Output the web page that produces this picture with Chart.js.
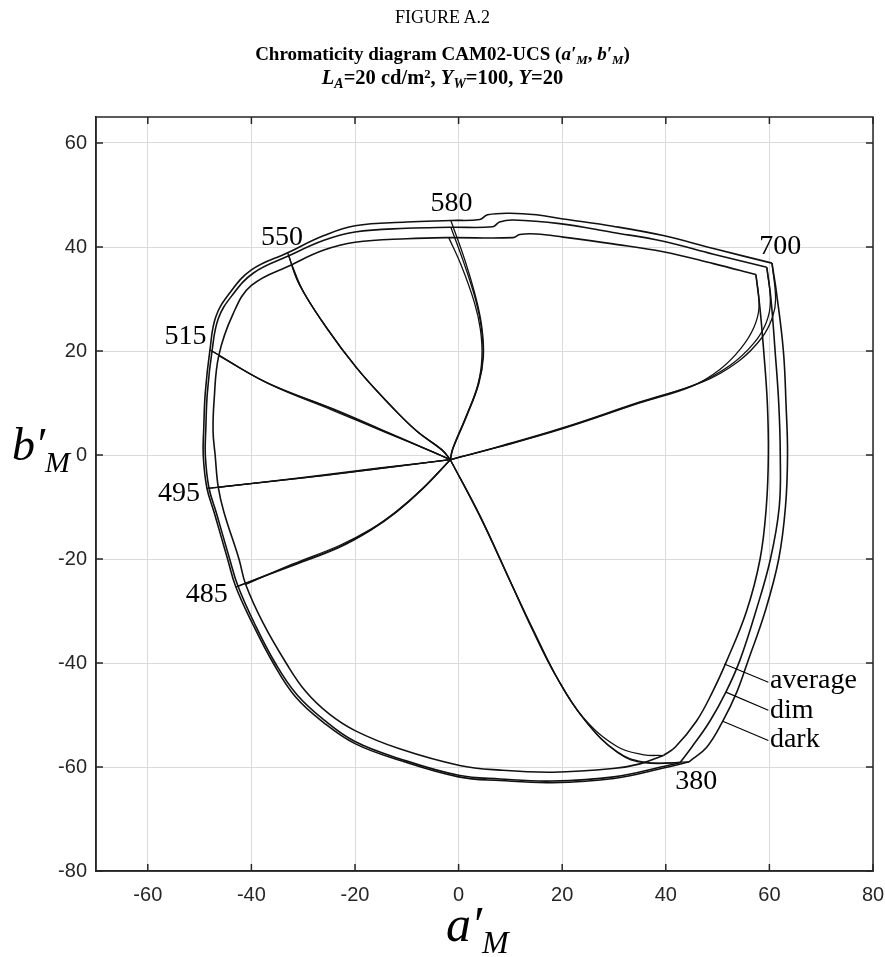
<!DOCTYPE html>
<html>
<head>
<meta charset="utf-8">
<script src="https://cdn.jsdelivr.net/npm/chart.js@4.4.1/dist/chart.umd.min.js"></script>
<style>
  body { margin: 0; background: #fff; }
  #wrap { position: relative; width: 885px; height: 957px; }
  .t { position: absolute; left: 0; width: 885px; text-align: center; white-space: nowrap;
       font-family: "Liberation Serif", "Times New Roman", serif; color: #000; }
  .sb { font-size: 0.68em; position: relative; top: 0.28em; }
  .sp { font-size: 0.62em; position: relative; top: -0.45em; }
  .ax { position: absolute; font-family: "Liberation Serif", "Times New Roman", serif;
        font-style: italic; color: #000; white-space: nowrap; }
</style>
</head>
<body>
<div id="wrap">
  <canvas id="chart"></canvas>
  <div class="t" style="top:7px;font-size:18px;line-height:20px">FIGURE A.2</div>
  <div class="t" style="top:43px;font-size:19px;line-height:22px;font-weight:bold">Chromaticity diagram CAM02-UCS (<i>a′</i><span class="sb"><i>M</i></span>, <i>b′</i><span class="sb"><i>M</i></span>)</div>
  <div class="t" style="top:66px;font-size:20.5px;line-height:22px;font-weight:bold"><i>L</i><span class="sb"><i>A</i></span>=20 cd/m<span class="sp">2</span>, <i>Y</i><span class="sb"><i>W</i></span>=100, <i>Y</i>=20</div>
  <div class="ax" style="left:12px;top:420px;font-size:46px;line-height:50px">b′<span style="font-size:30px;position:relative;top:12px">M</span></div>
  <div class="ax" style="left:446px;top:898px;font-size:50px;line-height:52px">a′<span style="font-size:32px;position:relative;top:12px">M</span></div>
</div>
<script>
// axis ticks
const xTicks = [-60, -40, -20, 0, 20, 40, 60, 80];
const yTicks = [-80, -60, -40, -20, 0, 20, 40, 60];

// gamut boundaries, spectral locus 380 -> 700 nm, then purple line 700 -> 380
const averageLocus = [[39.5,-57.8],[35.0,-59.4],[29.8,-60.3],[18.2,-61.0],[8.0,-60.6],[0.2,-59.7],[-11.4,-56.5],[-20.0,-53.0],[-25.0,-49.8],[-29.5,-45.5],[-33.3,-40.0],[-37.7,-32.4],[-41.1,-24.9],[-42.4,-20.0],[-45.3,-11.0],[-46.4,-6.2],[-47.0,0.0],[-47.4,4.5],[-47.2,10.5],[-46.3,19.1],[-43.6,27.0],[-40.0,32.6],[-32.2,36.6],[-26.0,39.4],[-20.0,40.9],[-10.0,41.6],[-1.9,41.8],[10.5,41.8],[11.8,42.4],[15.0,42.5],[20.2,41.9],[29.8,40.6],[39.5,39.1],[49.2,36.8],[57.4,34.7]];
const averagePurple = [[57.4,34.7],[58.2,28.0],[58.9,20.0],[59.6,10.0],[59.8,0.0],[59.4,-10.0],[58.2,-20.0],[55.6,-30.0],[51.8,-39.5],[49.0,-45.6],[45.9,-51.2],[41.8,-56.2],[39.5,-57.8]];

const dimLocus = [[42.7,-59.2],[40.0,-59.8],[30.0,-61.9],[18.0,-62.7],[8.0,-62.3],[0.0,-61.6],[-11.4,-58.4],[-20.0,-55.1],[-25.8,-51.1],[-31.2,-46.1],[-35.4,-40.0],[-39.4,-32.4],[-42.6,-25.2],[-44.2,-20.0],[-46.8,-11.0],[-48.2,-6.3],[-48.9,0.0],[-48.8,5.0],[-48.5,12.0],[-47.6,20.0],[-46.4,26.2],[-43.8,30.6],[-39.6,35.0],[-32.8,38.3],[-26.0,41.3],[-20.0,42.9],[-10.0,43.6],[-1.5,43.8],[6.6,43.9],[7.9,44.8],[10.5,45.2],[19.5,44.5],[29.8,42.8],[39.5,41.1],[49.2,38.6],[59.5,36.1]];
const dimPurple = [[59.5,36.1],[60.3,30.0],[61.1,20.0],[61.8,10.0],[62.1,0.0],[61.9,-10.0],[60.2,-20.0],[57.4,-30.0],[54.3,-39.5],[51.6,-45.6],[48.5,-51.2],[45.0,-56.2],[42.7,-59.2]];

const darkLocus = [[44.5,-59.0],[40.0,-60.1],[30.0,-62.2],[18.0,-63.0],[8.0,-62.6],[0.0,-61.9],[-11.4,-58.7],[-20.0,-55.5],[-26.0,-51.5],[-31.5,-46.5],[-35.8,-40.0],[-39.8,-32.4],[-43.0,-25.4],[-44.6,-20.0],[-47.2,-11.0],[-48.6,-6.3],[-49.3,0.0],[-49.2,5.0],[-48.9,12.0],[-48.0,20.2],[-46.9,26.5],[-44.3,31.0],[-40.0,35.6],[-33.0,38.9],[-26.0,42.2],[-20.0,44.1],[-10.0,44.8],[-1.5,45.1],[4.1,45.3],[5.6,46.2],[9.9,46.5],[15.0,46.2],[20.2,45.4],[29.8,44.0],[39.5,42.2],[49.2,39.7],[60.5,36.9]];
const darkPurple = [[60.5,36.9],[61.4,31.0],[62.7,20.0],[63.2,10.0],[63.5,0.0],[63.1,-10.0],[61.8,-20.0],[59.2,-30.0],[55.9,-39.5],[53.7,-45.6],[51.0,-51.2],[47.9,-56.2],[44.5,-59.0]];

// constant-hue lines from the white point to the boundary
const hue380Avg = [[-1.6,-0.9],[4.0,-11.6],[9.9,-24.2],[14.2,-33.5],[18.9,-42.7],[24.0,-50.4],[30.5,-56.0],[35.5,-57.6],[39.5,-57.8]];
const hue380Dim = [[-1.6,-0.9],[4.1,-11.7],[10.0,-24.4],[14.4,-33.8],[19.2,-43.2],[24.4,-51.0],[30.5,-57.0],[35.6,-59.0],[42.7,-59.2]];
const hue380Dark = [[-1.6,-0.9],[4.2,-11.8],[10.1,-24.5],[14.6,-34.0],[19.4,-43.5],[24.6,-51.3],[30.8,-57.3],[36.0,-59.2],[44.5,-59.0]];
const hue485Avg = [[-1.6,-0.9],[-7.0,-6.5],[-12.0,-10.8],[-17.0,-14.3],[-23.0,-17.4],[-32.1,-21.0],[-41.1,-24.9]];
const hue485Dim = [[-1.6,-0.9],[-7.0,-6.5],[-12.0,-10.9],[-17.0,-14.4],[-23.0,-17.6],[-32.2,-21.2],[-42.6,-25.2]];
const hue485Dark = [[-1.6,-0.9],[-7.0,-6.6],[-12.0,-11.0],[-17.0,-14.5],[-23.1,-17.8],[-32.4,-21.4],[-43.0,-25.4]];
const hue495Avg = [[-1.6,-0.9],[-15.3,-2.5],[-30.0,-4.3],[-46.4,-6.2]];
const hue495Dim = [[-1.6,-0.9],[-15.3,-2.6],[-30.0,-4.4],[-48.2,-6.4]];
const hue495Dark = [[-1.6,-0.9],[-15.3,-2.6],[-30.0,-4.4],[-48.6,-6.4]];
const hue515Avg = [[-1.6,-0.9],[-5.0,0.6],[-14.0,4.3],[-24.3,8.6],[-36.5,13.6],[-46.3,19.1]];
const hue515Dim = [[-1.6,-0.9],[-5.0,0.6],[-14.0,4.4],[-24.3,8.8],[-37.0,13.9],[-47.6,20.0]];
const hue515Dark = [[-1.6,-0.9],[-5.0,0.6],[-14.0,4.5],[-24.3,8.9],[-37.2,14.0],[-48.0,20.2]];
const hue550Avg = [[-1.6,-0.9],[-3.2,0.9],[-8.1,4.6],[-13.9,10.3],[-19.6,16.6],[-25.2,24.0],[-30.0,31.5],[-32.2,36.6]];
const hue550Dim = [[-1.6,-0.9],[-3.2,1.0],[-8.2,4.7],[-14.0,10.4],[-19.7,16.8],[-25.4,24.4],[-30.6,32.5],[-32.8,38.3]];
const hue550Dark = [[-1.6,-0.9],[-3.2,1.0],[-8.2,4.7],[-14.0,10.5],[-19.8,16.9],[-25.6,24.6],[-30.8,32.9],[-33.0,38.9]];
const hue580Avg = [[-1.6,-0.9],[-1.2,1.1],[1.3,7.1],[3.7,13.5],[4.5,18.8],[4.2,24.2],[3.0,29.5],[0.5,36.5],[-1.9,41.8]];
const hue580Dim = [[-1.6,-0.9],[-1.1,1.2],[1.4,7.2],[3.8,13.6],[4.7,18.9],[4.4,24.4],[3.3,29.8],[1.0,37.0],[-1.5,43.8]];
const hue580Dark = [[-1.6,-0.9],[-1.1,1.2],[1.5,7.3],[3.9,13.7],[4.8,19.0],[4.5,24.5],[3.4,30.0],[1.2,37.5],[-1.5,45.1]];
const hue700Avg = [[57.4,34.7],[58.0,28.5],[57.0,24.5],[54.5,20.5],[50.5,16.5],[45.0,13.2],[35.0,10.0],[20.0,5.0],[8.0,1.6],[-1.6,-0.9]];
const hue700Dim = [[59.5,36.1],[60.2,29.5],[59.4,25.5],[57.0,21.5],[52.5,17.3],[46.0,13.7],[35.0,10.1],[20.0,5.1],[8.0,1.6],[-1.6,-0.9]];
const hue700Dark = [[60.5,36.9],[61.2,30.0],[60.6,26.5],[58.5,22.5],[54.0,18.0],[47.0,14.0],[35.0,10.2],[20.0,5.2],[8.0,1.7],[-1.6,-0.9]];

// wavelength labels (nm) and where they sit
const waveNames = ['380', '485', '495', '515', '550', '580', '700'];
const waveX = [45.9, -48.6, -54.0, -52.7, -34.1, -1.35, 62.1];
const waveY = [-64.2, -28.3, -8.75, 21.4, 40.3, 47.0, 38.7];

// surround labels with leader lines
const surroundNames = ['average', 'dim', 'dark'];
const surroundY = [-44.8, -50.5, -56.1];
const leaderFrom = [[51.3,-40.2],[51.6,-45.6],[51.0,-51.2]];
const leaderTo = [[59.8,-43.7],[59.8,-49.1],[59.8,-54.9]];

const boundaries = [averageLocus, averagePurple, dimLocus, dimPurple, darkLocus, darkPurple];
const hueLines = [hue380Avg, hue380Dim, hue380Dark, hue485Avg, hue485Dim, hue485Dark,
  hue495Avg, hue495Dim, hue495Dark, hue515Avg, hue515Dim, hue515Dark,
  hue550Avg, hue550Dim, hue550Dark, hue580Avg, hue580Dim, hue580Dark,
  hue700Avg, hue700Dim, hue700Dark];

function curve(pts, width) {
  return {
    data: pts.map(p => ({ x: p[0], y: p[1] })),
    showLine: true,
    pointRadius: 0,
    borderColor: '#111',
    borderWidth: width,
    tension: 0.4,
    fill: false,
  };
}

const datasets = [
  ...boundaries.map(b => curve(b, 1.6)),
  ...hueLines.map(h => curve(h, 1.3)),
];

const overlay = {
  id: 'overlay',
  afterDatasetsDraw(chart) {
    const { ctx, chartArea: a, scales: { x, y } } = chart;
    ctx.save();
    ctx.strokeStyle = '#262626';
    ctx.lineWidth = 1.5;
    ctx.strokeRect(a.left, a.top, a.right - a.left, a.bottom - a.top);
    ctx.beginPath();
    xTicks.forEach(v => {
      const px = x.getPixelForValue(v);
      ctx.moveTo(px, a.bottom); ctx.lineTo(px, a.bottom - 7);
      ctx.moveTo(px, a.top); ctx.lineTo(px, a.top + 7);
    });
    yTicks.forEach(v => {
      const py = y.getPixelForValue(v);
      ctx.moveTo(a.left, py); ctx.lineTo(a.left + 7, py);
      ctx.moveTo(a.right, py); ctx.lineTo(a.right - 7, py);
    });
    ctx.stroke();

    ctx.fillStyle = '#000';
    ctx.font = '28px "Liberation Serif", "Times New Roman", serif';
    ctx.textBaseline = 'alphabetic';
    ctx.textAlign = 'center';
    waveNames.forEach((s, i) => {
      ctx.fillText(s, x.getPixelForValue(waveX[i]), y.getPixelForValue(waveY[i]));
    });
    ctx.textAlign = 'left';
    ctx.strokeStyle = '#000';
    ctx.lineWidth = 1.1;
    surroundNames.forEach((s, i) => {
      ctx.beginPath();
      ctx.moveTo(x.getPixelForValue(leaderFrom[i][0]), y.getPixelForValue(leaderFrom[i][1]));
      ctx.lineTo(x.getPixelForValue(leaderTo[i][0]), y.getPixelForValue(leaderTo[i][1]));
      ctx.stroke();
      ctx.fillText(s, x.getPixelForValue(60.1), y.getPixelForValue(surroundY[i]));
    });
    ctx.restore();
  }
};

new Chart(document.getElementById('chart'), {
  type: 'scatter',
  data: { datasets },
  options: {
    responsive: true,
    maintainAspectRatio: false,
    animation: false,
    layout: { padding: { left: 36, right: 12, top: 117, bottom: 36 } },
    plugins: { legend: { display: false }, tooltip: { enabled: false } },
    scales: {
      x: {
        type: 'linear', min: -70, max: 80,
        afterBuildTicks: s => { s.ticks = xTicks.map(v => ({ value: v })); },
        afterFit: s => { s.height = 50; s.paddingLeft = 0; s.paddingRight = 0; },
        grid: { color: '#dadada', lineWidth: 1, drawTicks: false },
        border: { display: true, color: '#262626', width: 1.5 },
        ticks: { padding: 12, color: '#262626', font: { family: '"Liberation Sans", Arial, sans-serif', size: 20 } },
      },
      y: {
        type: 'linear', min: -80, max: 65,
        afterBuildTicks: s => { s.ticks = yTicks.map(v => ({ value: v })); },
        afterFit: s => { s.width = 60; s.paddingTop = 0; s.paddingBottom = 0; },
        grid: { color: '#dadada', lineWidth: 1, drawTicks: false },
        border: { display: true, color: '#262626', width: 1.5 },
        ticks: { padding: 9, color: '#262626', font: { family: '"Liberation Sans", Arial, sans-serif', size: 20 } },
      },
    },
  },
  plugins: [overlay],
});
</script>
</body>
</html>
